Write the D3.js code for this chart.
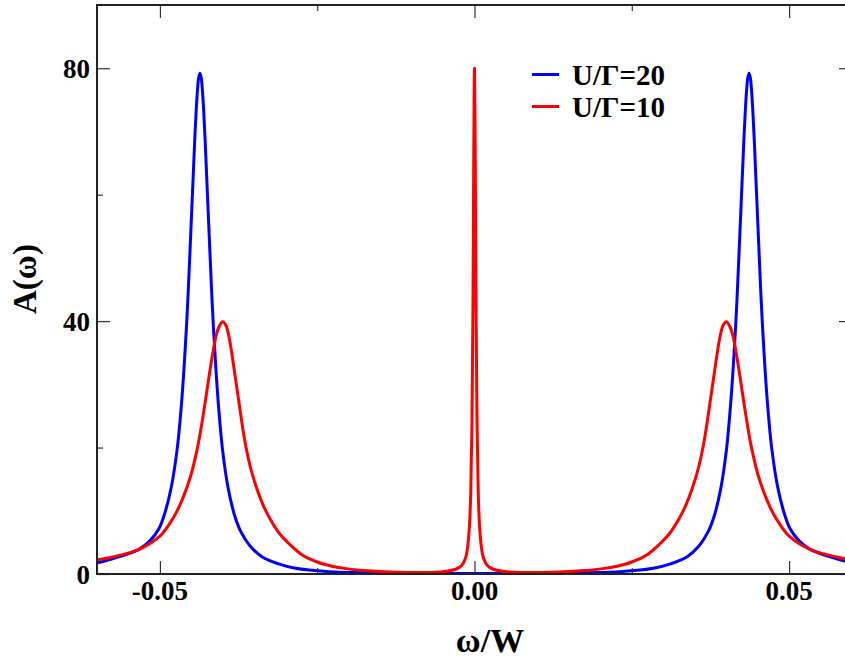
<!DOCTYPE html>
<html>
<head>
<meta charset="utf-8">
<script src="https://cdn.jsdelivr.net/npm/d3@7"></script>
<style>
  html, body { margin: 0; padding: 0; background: #fff; }
  svg { display: block; }
  text { font-family: "Liberation Serif", "Times New Roman", serif; font-weight: bold; fill: #000; }
</style>
</head>
<body>
<svg id="chart" width="845" height="660"></svg>
<script>
// Spectral function A(ω) for two interaction strengths
const seriesNames = ["U/\u0393=20", "U/\u0393=10"];
const seriesColors = ["#0000ff", "#ff0000"];

// U/Γ = 20: two Hubbard bands near ±0.0436, no quasiparticle peak
const omegaU20 = [
  -0.06114, -0.06024, -0.05754, -0.05334, -0.05164, -0.05014, -0.04914, -0.04814, -0.04724, -0.04664,
  -0.04614, -0.04564, -0.04524, -0.04494, -0.04464, -0.04444, -0.04424, -0.04404, -0.04384, -0.04364,
  -0.04344, -0.04324, -0.04304, -0.04284, -0.04264, -0.04234, -0.04204, -0.04164, -0.04114, -0.04064,
  -0.04004, -0.03914, -0.03814, -0.03714, -0.03564, -0.03374, -0.03114, -0.02844, -0.02314, -0.01814,
  -0.01264, -0.00664, 0.0,
  0.00664, 0.01264, 0.01814, 0.02314, 0.02844, 0.03114, 0.03374, 0.03564, 0.03714, 0.03814,
  0.03914, 0.04004, 0.04064, 0.04114, 0.04164, 0.04204, 0.04234, 0.04264, 0.04284, 0.04304,
  0.04324, 0.04344, 0.04364, 0.04384, 0.04404, 0.04424, 0.04444, 0.04464, 0.04494, 0.04524,
  0.04564, 0.04614, 0.04664, 0.04724, 0.04814, 0.04914, 0.05014, 0.05164, 0.05334, 0.05754,
  0.06024, 0.06114];
const aU20 = [
  1.55, 1.7, 2.4, 3.9, 5.2, 7.2, 9.9, 14.0, 19.9, 26.1,
  33.0, 41.8, 50.6, 57.6, 64.6, 69.2, 73.2, 76.4, 78.5, 79.2,
  78.5, 76.4, 73.2, 69.2, 64.6, 57.6, 50.6, 41.8, 33.0, 26.0,
  19.6, 13.5, 9.3, 6.7, 4.4, 2.7, 1.6, 0.9, 0.37, 0.2,
  0.12, 0.08, 0.06,
  0.08, 0.12, 0.2, 0.37, 0.9, 1.6, 2.7, 4.4, 6.7, 9.3,
  13.5, 19.6, 26.0, 33.0, 41.8, 50.6, 57.6, 64.6, 69.2, 73.2,
  76.4, 78.5, 79.2, 78.5, 76.4, 73.2, 69.2, 64.6, 57.6, 50.6,
  41.8, 33.0, 26.1, 19.9, 14.0, 9.9, 7.2, 5.2, 3.9, 2.4,
  1.7, 1.55];

// U/Γ = 10: Hubbard bands near ±0.040 and a sharp Kondo resonance at ω = 0
const omegaU10 = [
  -0.0612, -0.0602, -0.0575, -0.0533, -0.0501, -0.0487, -0.0472, -0.0453, -0.0440, -0.0430,
  -0.0422, -0.0416, -0.0411, -0.0406, -0.04003, -0.0395, -0.0390, -0.0385, -0.0380, -0.0374,
  -0.0366, -0.0357, -0.0347, -0.0336, -0.0326, -0.0310, -0.0294, -0.0275, -0.0250, -0.0225,
  -0.0204, -0.0175, -0.0150, -0.0120, -0.0090, -0.0065, -0.0045, -0.0030, -0.0020, -0.0014,
  -0.0011, -0.0008, -0.0006, -0.0004, -0.00025, -0.00012, 0.0,
  0.00012, 0.00025, 0.0004, 0.0006, 0.0008, 0.0011, 0.0014, 0.0020, 0.0030, 0.0045,
  0.0065, 0.0090, 0.0120, 0.0150, 0.0175, 0.0204, 0.0225, 0.0250, 0.0275, 0.0294,
  0.0310, 0.0326, 0.0336, 0.0347, 0.0357, 0.0366, 0.0374, 0.0380, 0.0385, 0.0390,
  0.0395, 0.04003, 0.0406, 0.0411, 0.0416, 0.0422, 0.0430, 0.0440, 0.0453, 0.0472,
  0.0487, 0.0501, 0.0533, 0.0575, 0.0602, 0.0612];
const aU10 = [
  2.05, 2.2, 2.7, 3.9, 5.9, 7.6, 10.1, 14.9, 20.1, 25.9,
  31.2, 34.9, 37.6, 39.1, 39.9, 39.3, 37.4, 34.4, 31.0, 26.9,
  21.6, 17.2, 13.8, 10.9, 8.9, 6.4, 4.7, 3.1, 1.9, 1.2,
  0.85, 0.55, 0.38, 0.26, 0.22, 0.27, 0.45, 0.75, 1.4, 2.6,
  4.2, 7.7, 12.6, 24.0, 41.5, 66.0, 80.0,
  66.0, 41.5, 24.0, 12.6, 7.7, 4.2, 2.6, 1.4, 0.75, 0.45,
  0.27, 0.22, 0.26, 0.38, 0.55, 0.85, 1.2, 1.9, 3.1, 4.7,
  6.4, 8.9, 10.9, 13.8, 17.2, 21.6, 26.9, 31.0, 34.4, 37.4,
  39.3, 39.9, 39.1, 37.6, 34.9, 31.2, 25.9, 20.1, 14.9, 10.1,
  7.6, 5.9, 3.9, 2.7, 2.2, 2.05];

const xMajorTicks = [-0.05, 0.0, 0.05];
const xTickLabels = ["-0.05", "0.00", "0.05"];
const xMinorTicks = [-0.025, 0.025];
const yMajorTicks = [0, 40, 80];
const yTickLabels = ["0", "40", "80"];
const yMinorTicks = [20, 60];

const svg = d3.select("#chart");
const frame = { left: 97, right: 852, top: 5, bottom: 574 };

const x = d3.scaleLinear().domain([-0.06, 0.06]).range([frame.left, frame.right]);
const y = d3.scaleLinear().domain([0, 90]).range([frame.bottom, frame.top]);

// clip curves to the plotting frame
svg.append("defs").append("clipPath").attr("id", "plotClip")
  .append("rect").attr("x", frame.left).attr("y", frame.top)
  .attr("width", frame.right - frame.left).attr("height", frame.bottom - frame.top);

const line = d3.line()
  .x(d => x(d[0]))
  .y(d => y(d[1]))
  .curve(d3.curveCatmullRom.alpha(0.5));

const series = [d3.zip(omegaU20, aU20), d3.zip(omegaU10, aU10)];

const curves = svg.append("g").attr("clip-path", "url(#plotClip)");
series.forEach((pts, i) => {
  curves.append("path")
    .datum(pts)
    .attr("d", line)
    .attr("fill", "none")
    .attr("stroke", seriesColors[i])
    .attr("stroke-width", 3)
    .attr("stroke-linejoin", "round");
});

// frame axes with inward ticks on all four sides
const tickColor = "#333";
const axes = svg.append("g");
function inward(axisGen, tr, size) {
  const g = axes.append("g").attr("transform", tr)
    .call(axisGen.tickSizeInner(size).tickSizeOuter(0).tickFormat(""));
  g.select(".domain").remove();
  g.selectAll("line").attr("stroke", tickColor).attr("stroke-width", 1.2);
  g.selectAll("text").remove();
}
inward(d3.axisTop(x).tickValues(xMajorTicks), `translate(0,${frame.bottom})`, 13);
inward(d3.axisTop(x).tickValues(xMinorTicks), `translate(0,${frame.bottom})`, 6);
inward(d3.axisBottom(x).tickValues(xMajorTicks), `translate(0,${frame.top})`, 13);
inward(d3.axisBottom(x).tickValues(xMinorTicks), `translate(0,${frame.top})`, 6);
inward(d3.axisRight(y).tickValues(yMajorTicks), `translate(${frame.left},0)`, 13);
inward(d3.axisRight(y).tickValues(yMinorTicks), `translate(${frame.left},0)`, 6);
inward(d3.axisLeft(y).tickValues(yMajorTicks), `translate(${frame.right},0)`, 13);
inward(d3.axisLeft(y).tickValues(yMinorTicks), `translate(${frame.right},0)`, 6);

axes.append("rect")
  .attr("x", frame.left).attr("y", frame.top)
  .attr("width", frame.right - frame.left).attr("height", frame.bottom - frame.top)
  .attr("fill", "none").attr("stroke", "#222").attr("stroke-width", 2);

// tick labels
svg.append("g").selectAll("text").data(xMajorTicks).join("text")
  .attr("x", d => x(d)).attr("y", 600)
  .attr("text-anchor", "middle").attr("font-size", 27)
  .text((d, i) => xTickLabels[i]);

svg.append("g").selectAll("text").data(yMajorTicks).join("text")
  .attr("x", frame.left - 7).attr("y", d => y(d) + 9.5)
  .attr("text-anchor", "end").attr("font-size", 27)
  .text((d, i) => yTickLabels[i]);

// axis titles
svg.append("text")
  .attr("x", 490).attr("y", 652)
  .attr("text-anchor", "middle").attr("font-size", 34)
  .text("\u03c9/W");

svg.append("text")
  .attr("transform", "translate(36,279) rotate(-90)")
  .attr("text-anchor", "middle").attr("font-size", 33)
  .text("A(\u03c9)");

// legend
const legend = svg.append("g");
seriesNames.forEach((name, i) => {
  const ly = 74.5 + i * 32;
  legend.append("line")
    .attr("x1", 532).attr("x2", 559).attr("y1", ly).attr("y2", ly)
    .attr("stroke", seriesColors[i]).attr("stroke-width", 3);
  legend.append("text")
    .attr("x", 572).attr("y", ly + 10)
    .attr("font-size", 29)
    .text(name);
});
</script>
</body>
</html>
